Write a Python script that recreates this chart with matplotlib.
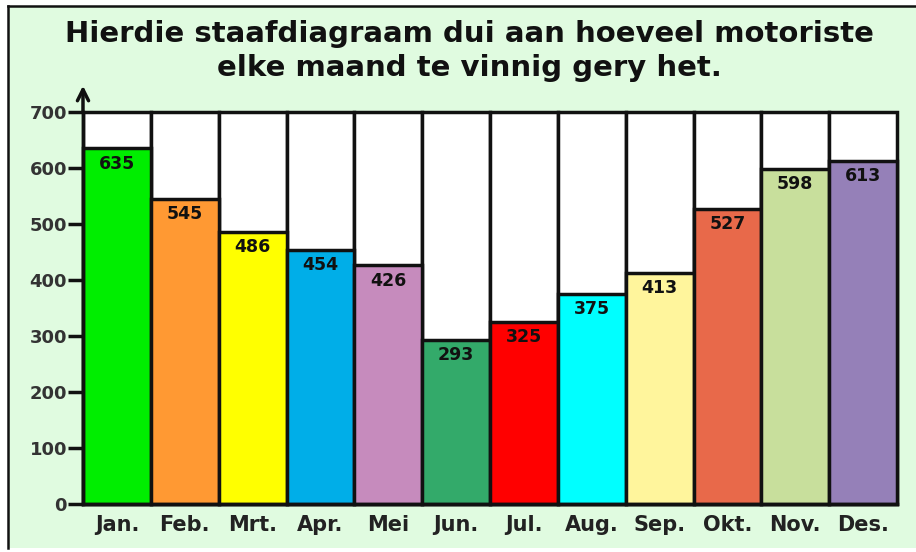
import matplotlib.pyplot as plt
from matplotlib.patches import Rectangle
from matplotlib.lines import Line2D

# data
months = ['Jan.', 'Feb.', 'Mrt.', 'Apr.', 'Mei', 'Jun.', 'Jul.', 'Aug.', 'Sep.', 'Okt.', 'Nov.', 'Des.']
speeders = [635, 545, 486, 454, 426, 293, 325, 375, 413, 527, 598, 613]
bar_colors = ['#00ee00', '#ff9933', '#ffff00', '#00aee8', '#c68bbd', '#33aa6a',
              '#ff0000', '#00ffff', '#fff59c', '#e8694a', '#c8df9c', '#9580b8']
y_ticks = [0, 100, 200, 300, 400, 500, 600, 700]
y_max = 700

plt.rcParams['font.family'] = ['DejaVu Sans']
plt.rcParams['font.weight'] = 'bold'

fig = plt.figure(figsize=(9.16, 5.52), dpi=100)
fig.patch.set_facecolor('white')

# green panel with border on top and left
bg = '#e0fbe0'
fig.patches.append(Rectangle((0.009, 0.007), 1.0, 0.982, transform=fig.transFigure,
                             facecolor=bg, edgecolor='none', zorder=-10))
fig.lines.append(Line2D([0.009, 1.0], [0.989, 0.989], transform=fig.transFigure, color='#111', lw=1.8, zorder=-9))
fig.lines.append(Line2D([0.009, 0.009], [0.007, 0.989], transform=fig.transFigure, color='#111', lw=1.8, zorder=-9))

fig.text(0.513, 0.908, 'Hierdie staafdiagraam dui aan hoeveel motoriste\nelke maand te vinnig gery het.',
         ha='center', va='center', fontsize=21, fontweight='bold', color='#111', linespacing=1.27)

ax = fig.add_axes([0.0906, 0.087, 0.8887, 0.710])
ax.set_zorder(5)
ax.set_facecolor('none')

x = list(range(len(months)))
# white boxes up to 700
ax.bar(x, [y_max] * len(x), width=1.0, color='white', edgecolor='#111', linewidth=2.5, clip_on=False, zorder=2)
bars = ax.bar(x, speeders, width=1.0, color=bar_colors, edgecolor='#111', linewidth=2.5, clip_on=False, zorder=3)

for xi, v in zip(x, speeders):
    ax.annotate(str(v), (xi, v), xytext=(0, -4.5), textcoords='offset points',
                ha='center', va='top', fontsize=12.5, fontweight='bold', color='#111', zorder=4)

ax.set_xlim(-0.5, len(months) - 0.5)
ax.set_ylim(0, y_max)
ax.set_yticks(y_ticks)
ax.set_xticks(x)
ax.set_xticklabels(months)

for s in ['top', 'right']:
    ax.spines[s].set_visible(False)
for s in ['left', 'bottom']:
    ax.spines[s].set_linewidth(2.5)
    ax.spines[s].set_color('#111')
    ax.spines[s].set_zorder(5)

ax.tick_params(axis='y', direction='out', length=11, width=2.5, color='#111', pad=0.5,
               labelsize=13, labelcolor='#333')
ax.tick_params(axis='x', length=0, pad=8, labelsize=15, labelcolor='#222')
for lbl in ax.get_yticklabels() + ax.get_xticklabels():
    lbl.set_fontweight('bold')

# arrow on top of y axis
ax.annotate('', xy=(-0.5, 752), xytext=(-0.5, 695),
            arrowprops=dict(arrowstyle='->', color='#111', lw=2.5, mutation_scale=20),
            annotation_clip=False)

fig.savefig('out.png', dpi=100)
